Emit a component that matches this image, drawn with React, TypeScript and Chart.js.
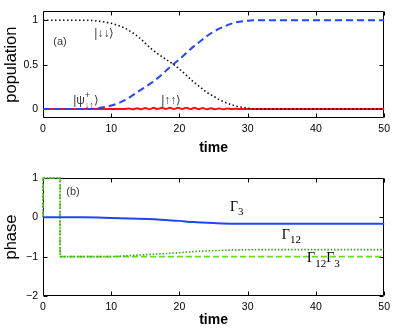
import React, { useEffect, useRef } from 'react';
import { Chart, registerables } from 'chart.js';
Chart.register(...registerables);

// ---------- data ----------
const xTicks = [0, 10, 20, 30, 40, 50];
const popTicks = [0, 0.5, 1];
const phaseTicks = [-2, -1, 0, 1];

// |↓↓> population (black dotted)
const downT = [0, 4, 6, 8, 10, 12, 14, 16, 18, 19, 20, 22, 23, 24, 25, 26, 28, 30, 31, 50];
const downY = [1, 1, 1, 0.99, 0.965, 0.91, 0.81, 0.67, 0.56, 0.51, 0.45, 0.31, 0.25, 0.19, 0.145, 0.1, 0.04, 0.01, 0, 0];

// |psi+> population (blue dashed)
const psiT = [0, 4, 6, 8, 10, 12, 14, 16, 17, 18, 19, 20, 22, 23, 24, 25, 26, 28, 30, 32, 50];
const psiY = [0, 0, 0, 0.01, 0.04, 0.1, 0.2, 0.3, 0.36, 0.43, 0.5, 0.56, 0.7, 0.76, 0.82, 0.87, 0.91, 0.97, 0.995, 1, 1];

// |↑↑> population (red solid, small wiggles)
const upT = [0, 12, 12.6, 13.2, 13.8, 14.4, 15.0, 15.6, 16.2, 16.8, 17.4, 18.0, 18.6, 19.2, 19.8, 20.4, 21.0, 21.6, 22.2, 22.8, 23.4, 24.0, 24.6, 25.2, 25.8, 26.4, 27.0, 27.6, 28.2, 29, 50];
const upY = [0, 0, 0.006, -0.002, 0.01, -0.002, 0.012, -0.002, 0.014, 0, 0.015, 0, 0.016, 0, 0.015, 0, 0.015, 0, 0.014, 0, 0.012, -0.002, 0.01, -0.002, 0.008, -0.002, 0.006, 0, 0.003, 0, 0];

// phase Γ3 (blue solid)
const g3T = [0, 6, 10, 14, 18, 20, 22, 25, 28, 32, 50];
const g3Y = [0, 0, -0.015, -0.035, -0.065, -0.09, -0.12, -0.145, -0.16, -0.16, -0.16];

// phase Γ12 (green dotted)
const g12T = [0, 0, 2.5, 2.5, 10, 12, 15, 20, 23, 28, 32, 50];
const g12Y = [0, 1, 1, -1, -1, -0.98, -0.95, -0.9, -0.86, -0.83, -0.82, -0.82];

// phase Γ12Γ3 (green dashed)
const g123T = [0, 0, 2.5, 2.5, 50];
const g123Y = [0, 1, 1, -1, -1];

// ---------- styling helpers ----------
const SANS = "'Liberation Sans', Arial, Helvetica, sans-serif";
const SERIF = "'Liberation Serif', 'Times New Roman', serif";

const pts = (t: number[], y: number[]) => t.map((v, i) => ({ x: v, y: y[i] }));

const framePlugin = {
  id: 'frame',
  beforeDatasetsDraw(chart: any) {
    const { ctx, chartArea } = chart;
    const { left, right, top, bottom } = chartArea;
    const xs = chart.scales.x;
    const ys = chart.scales.y;
    const L = 4;
    ctx.save();
    ctx.strokeStyle = '#000';
    ctx.lineWidth = 1;
    ctx.setLineDash([]);
    ctx.beginPath();
    const l = Math.round(left) + 0.5, r = Math.round(right) - 0.5;
    const t = Math.round(top) + 0.5, b = Math.round(bottom) - 0.5;
    ctx.rect(l, t, r - l, b - t);
    xs.ticks.forEach((tk: any) => {
      const px = Math.round(xs.getPixelForValue(tk.value)) + 0.5;
      ctx.moveTo(px, b); ctx.lineTo(px, b - L);
      ctx.moveTo(px, t); ctx.lineTo(px, t + L);
    });
    ys.ticks.forEach((tk: any) => {
      const py = Math.round(ys.getPixelForValue(tk.value)) + 0.5;
      ctx.moveTo(l, py); ctx.lineTo(l + L, py);
      ctx.moveTo(r, py); ctx.lineTo(r - L, py);
    });
    ctx.stroke();
    ctx.restore();
  },
};

type Part = { t: string; font: string; dy?: number; stay?: boolean };
type Label = { x: number; y: number; color: string; parts: Part[] };

const annotPlugin = {
  id: 'annot',
  afterDatasetsDraw(chart: any, _args: any, opts: any) {
    const items: Label[] = (opts && opts.items) || [];
    const { ctx } = chart;
    const xs = chart.scales.x, ys = chart.scales.y;
    ctx.save();
    ctx.textBaseline = 'middle';
    ctx.textAlign = 'left';
    items.forEach((it) => {
      let w = 0;
      let pending = 0;
      it.parts.forEach((p) => {
        ctx.font = p.font;
        const m = ctx.measureText(p.t).width;
        if (p.stay) { pending = Math.max(pending, m); }
        else { w += Math.max(m, pending); pending = 0; }
      });
      let cx = xs.getPixelForValue(it.x) - w / 2;
      const cy = ys.getPixelForValue(it.y);
      ctx.fillStyle = it.color;
      pending = 0;
      it.parts.forEach((p) => {
        ctx.font = p.font;
        ctx.fillText(p.t, cx, cy + (p.dy || 0));
        const m = ctx.measureText(p.t).width;
        if (p.stay) { pending = Math.max(pending, m); }
        else { cx += Math.max(m, pending); pending = 0; }
      });
    });
    ctx.restore();
  },
};

const fmt = (v: any) => String(v).replace('-', '\u2212');

function makeScales(yMin: number, yMax: number, yTicks: number[], yTitle: string, xHeight: number) {
  return {
    x: {
      type: 'linear',
      min: 0,
      max: 50,
      afterBuildTicks: (s: any) => { s.ticks = xTicks.map((v) => ({ value: v })); },
      afterFit: (s: any) => { s.height = xHeight; },
      grid: { display: false, drawTicks: false },
      border: { display: false },
      ticks: { color: '#000', font: { family: SANS, size: 10.5 }, padding: 5, maxRotation: 0, autoSkip: false, callback: fmt },
      title: { display: true, text: 'time', color: '#000', font: { family: SANS, size: 14, weight: 'bold' }, padding: { top: 0, bottom: 3 } },
    },
    y: {
      type: 'linear',
      min: yMin,
      max: yMax,
      afterBuildTicks: (s: any) => { s.ticks = yTicks.map((v) => ({ value: v })); },
      afterFit: (s: any) => { s.width = 43; },
      grid: { display: false, drawTicks: false },
      border: { display: false },
      ticks: { color: '#000', font: { family: SANS, size: 10.5 }, padding: 5, autoSkip: false, callback: fmt },
      title: { display: true, text: yTitle, color: '#000', font: { family: SANS, size: 16.5 }, padding: { top: 2, bottom: 0 } },
    },
  };
}

const GRAY = '#3a3a3a';
const topLabels: Label[] = [
  { x: 2.5, y: 0.76, color: GRAY, parts: [{ t: '(a)', font: `11px ${SANS}` }] },
  { x: 9.0, y: 0.85, color: GRAY, parts: [{ t: '|\u2193\u2193\u27E9', font: `12px ${SANS}` }] },
  {
    x: 6.3, y: 0.1, color: GRAY, parts: [
      { t: '|\u03C8', font: `12px ${SANS}` },
      { t: '+', font: `9px ${SANS}`, dy: -5, stay: true },
      { t: '\u2193\u2191', font: `9px ${SANS}`, dy: 5 },
      { t: '\u27E9', font: `12px ${SANS}` },
    ],
  },
  { x: 18.8, y: 0.1, color: GRAY, parts: [{ t: '|\u2191\u2191\u27E9', font: `12px ${SANS}` }] },
];

const botLabels: Label[] = [
  { x: 4.4, y: 0.64, color: GRAY, parts: [{ t: '(b)', font: `11px ${SANS}` }] },
  { x: 28.4, y: 0.25, color: '#000', parts: [{ t: '\u0393', font: `14px ${SERIF}` }, { t: '3', font: `11px ${SERIF}`, dy: 5 }] },
  { x: 36.4, y: -0.46, color: '#000', parts: [{ t: '\u0393', font: `14px ${SERIF}` }, { t: '12', font: `11px ${SERIF}`, dy: 5 }] },
  {
    x: 41.1, y: -1.05, color: '#000', parts: [
      { t: '\u0393', font: `14px ${SERIF}` }, { t: '12', font: `11px ${SERIF}`, dy: 5 },
      { t: '\u0393', font: `14px ${SERIF}` }, { t: '3', font: `11px ${SERIF}`, dy: 5 },
    ],
  },
];

function topConfig(): any {
  return {
    type: 'line',
    data: {
      datasets: [
        { data: pts(downT, downY), borderColor: '#111', borderWidth: 1.6, borderDash: [1.5, 2.5], pointRadius: 0, cubicInterpolationMode: 'monotone', clip: false },
        { data: pts(psiT, psiY), borderColor: '#2446ff', borderWidth: 2, borderDash: [7, 4], pointRadius: 0, cubicInterpolationMode: 'monotone', clip: false },
        { data: pts(upT, upY), borderColor: '#ff1010', borderWidth: 2, pointRadius: 0, cubicInterpolationMode: 'monotone', clip: false },
      ],
    },
    options: {
      animation: false,
      responsive: false,
      parsing: false,
      layout: { padding: { top: 3, right: 9, left: 0, bottom: 0 } },
      plugins: { legend: { display: false }, tooltip: { enabled: false }, annot: { items: topLabels } },
      scales: makeScales(-0.1, 1.1, popTicks, 'population', 42),
    },
    plugins: [framePlugin, annotPlugin],
  };
}

function botConfig(): any {
  return {
    type: 'line',
    data: {
      datasets: [
        { data: pts(g3T, g3Y), borderColor: '#1f47f0', borderWidth: 2, pointRadius: 0, cubicInterpolationMode: 'monotone', clip: false },
        { data: pts(g12T, g12Y), borderColor: '#33aa11', borderWidth: 1.6, borderDash: [1.5, 1.8], pointRadius: 0, tension: 0, clip: false },
        { data: pts(g123T, g123Y), borderColor: '#66dd22', borderWidth: 1.6, borderDash: [6, 3], pointRadius: 0, tension: 0, clip: false },
      ],
    },
    options: {
      animation: false,
      responsive: false,
      parsing: false,
      layout: { padding: { top: 18, right: 9, left: 0, bottom: 0 } },
      plugins: { legend: { display: false }, tooltip: { enabled: false }, annot: { items: botLabels } },
      scales: makeScales(-2, 1, phaseTicks, 'phase', 36),
    },
    plugins: [framePlugin, annotPlugin],
  };
}

function Panel({ config, top, height }: { config: () => any; top: number; height: number }) {
  const ref = useRef<HTMLCanvasElement>(null);
  useEffect(() => {
    const chart = new Chart(ref.current as HTMLCanvasElement, config());
    return () => chart.destroy();
  }, []);
  return (
    <canvas
      ref={ref}
      width={395}
      height={height}
      style={{ position: 'absolute', left: 0, top, width: 395, height, display: 'block' }}
    />
  );
}

export default function App() {
  return (
    <div style={{ position: 'fixed', left: 0, top: 0, width: 395, height: 332, background: '#fff', overflow: 'hidden' }}>
      <Panel config={topConfig} top={0} height={160} />
      <Panel config={botConfig} top={160} height={172} />
    </div>
  );
}
